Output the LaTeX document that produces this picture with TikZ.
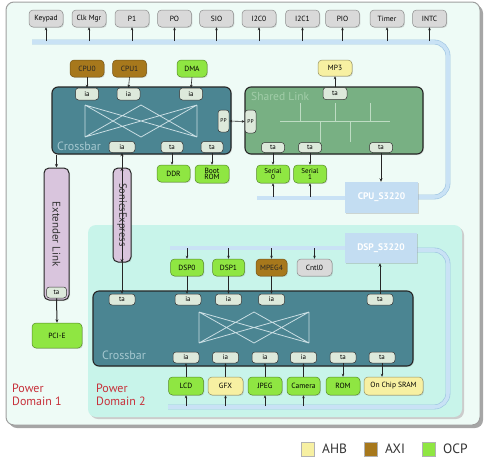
\documentclass[tikz,border=0pt]{standalone}
\usepackage{fontspec}
\setmainfont{PT Sans}
\usetikzlibrary{arrows.meta,shadows}
\definecolor{pdA}{HTML}{EEFBF6}
\definecolor{pdB}{HTML}{C8F4EA}
\definecolor{xbarcol}{HTML}{4B8592}
\definecolor{slcol}{HTML}{78B083}
\definecolor{portcol}{HTML}{DDE9DB}
\definecolor{graycol}{HTML}{D9D9D9}
\definecolor{axicol}{HTML}{A7781C}
\definecolor{ocpcol}{HTML}{8FE642}
\definecolor{ahbcol}{HTML}{F7F0A2}
\definecolor{purcol}{HTML}{D9C5DD}
\definecolor{buscol}{HTML}{C9E2F5}
\definecolor{busedge}{HTML}{9CC3E2}
\definecolor{sboxcol}{HTML}{C3DDF2}
\definecolor{pdred}{HTML}{C7303A}
\definecolor{xpatcol}{HTML}{C9DEE3}
\definecolor{sltext}{HTML}{A2CDA9}
\definecolor{xbtext}{HTML}{A5C8D0}
\newcommand\xbarpat[4]{%
  \draw[xpat] (#1,#2) -- (#1,#4) (#3,#2) -- (#3,#4)
   (#1,#2) -- (#3,#4) (#3,#2) -- (#1,#4)
   (#1,#2) -- ({(#1+#3)/2},#4) -- (#3,#2)
   (#1,#4) -- ({(#1+#3)/2},#2) -- (#3,#4);}
\begin{document}
\begin{tikzpicture}[x=1pt,y=-1pt,
  shad/.style={drop shadow={opacity=0.25,shadow xshift=0.9pt,shadow yshift=-0.9pt}},
  box/.style={draw=black!60, line width=0.5pt, rounded corners=4pt, inner sep=0pt, align=center,
     font=\fontsize{7.5}{6.5}\selectfont, minimum height=17pt, shad},
  periph/.style={box, fill=graycol, draw=gray!90, minimum width=34pt},
  axi/.style={box, fill=axicol, draw=axicol!70!black, text=black!85},
  ocp/.style={box, fill=ocpcol, draw=ocpcol!60!black},
  ahb/.style={box, fill=ahbcol, draw=ahbcol!60!black},
  port/.style={draw=black!80, line width=0.5pt, fill=portcol, rounded corners=3pt, inner sep=0pt,
     minimum width=24pt, minimum height=11pt, font=\fontsize{7}{7}\selectfont},
  big/.style={draw=black!85, line width=1.1pt, rounded corners=6pt, inner sep=0pt,
     drop shadow={opacity=0.2,shadow xshift=1pt,shadow yshift=-1pt}},
  sbox/.style={fill=sboxcol, inner sep=0pt, text=white, font=\bfseries\fontsize{9.5}{9.5}\selectfont,
     drop shadow={opacity=0.3,shadow xshift=1pt,shadow yshift=-1pt}},
  arr/.style={-{Stealth[length=3pt,width=2.6pt]}, line width=0.6pt, black!85},
  darr/.style={{Stealth[length=3pt,width=2.6pt]}-{Stealth[length=3pt,width=2.6pt]}, line width=0.6pt, black!85},
  tarr/.style={-{Stealth[length=3.5pt,width=3pt]}, line width=1pt, black!85},
  tdarr/.style={{Stealth[length=3.5pt,width=3pt]}-{Stealth[length=3.5pt,width=3pt]}, line width=1pt, black!85},
  bus/.style={draw=busedge, double=buscol, double distance=3.6pt, line width=0.6pt, rounded corners=14pt},
  xpat/.style={draw=xpatcol, line width=0.8pt},
  lbl/.style={inner sep=0pt, anchor=west}
]
\useasboundingbox (0,0) rectangle (490,459);
% power domains
\fill[gray!70, rounded corners=8pt] (9,5) rectangle (483,428);
\draw[fill=pdA, draw=gray!75, line width=1pt, rounded corners=8pt] (6,2) rectangle (480,425);
\fill[gray!40, rounded corners=8pt] (90,227) rectangle (464,419);
\fill[pdB, rounded corners=8pt] (88,225) rectangle (462,417);
% buses
\coordinate (tb) at (0,41);
\coordinate (cb) at (0,197);
\coordinate (db) at (0,248);
\coordinate (bb) at (0,406);
\draw[bus] (32,42) -- (448,42) -- (448,197) -- (418,197);
\draw[bus] (257,198) -- (345,198);
\draw[bus] (170,248) -- (345,248);
\draw[bus] (417,250) -- (448,250) -- (448,407) -- (168,407);
% top peripherals
\foreach \n/\t/\x in {kp/Keypad/46, ck/Clk Mgr/89, pone/P1/132, po/PO/174.5, sio/SIO/216.5,
   itwo/I2C0/259, ione/I2C1/302.5, pio/PIO/342.5, tmr/Timer/387, intc/INTC/429.5}{
  \node[periph] (\n) at (\x,18.5) {\t};
  \draw[arr] (\n.south |- tb) -- (\n.south);
}
% crossbar 1
\node[big, fill=xbarcol, minimum width=179pt, minimum height=67pt] (xb1) at (141.5,120.5) {};
\xbarpat{85}{105}{197}{137}
\node[lbl, text=xbtext, font=\fontsize{12}{12}\selectfont] (xb1l) at (57,146.5) {Crossbar};
\node[port, minimum width=23pt, minimum height=12pt] (xa1) at (87,94) {ia};
\node[port, minimum width=23pt, minimum height=12pt] (xa2) at (128.5,94) {ia};
\node[port, minimum width=23pt, minimum height=12pt] (xa3) at (191,94) {ia};
\node[port, minimum width=26pt] (xib) at (122,147) {ia};
\node[port, minimum width=22pt] (xt1) at (172,147) {ta};
\node[port, minimum width=22pt] (xt2) at (212,147) {ta};
\node[port, minimum width=11pt, minimum height=22pt, font=\fontsize{5.5}{5.5}\selectfont] (xpp) at (223.5,121) {PP};
\node[axi, minimum width=34pt] (cpu0) at (87,68.5) {CPU0};
\node[axi, minimum width=34pt] (cpu1) at (129.5,68.5) {CPU1};
\node[ocp, minimum width=30pt] (dma) at (192,68.5) {DMA};
\draw[arr] (cpu0) -- (xa1);
\draw[arr] (cpu1.south) -- (xa2.north);
\draw[arr] (dma.south) -- (xa3.north);
\node[ocp, minimum width=33pt] (ddr) at (173.5,173.5) {DDR};
\node[ocp, minimum width=34pt, minimum height=18pt, font=\fontsize{7.5}{6}\selectfont] (brom) at (212,174) {Boot\\ROM};
\draw[arr] (xt1.south) -- (ddr.north -| xt1.south);
\draw[arr] (xt2.south) -- (brom.north);
% shared link
\node[big, fill=slcol, minimum width=178pt, minimum height=67pt] (sl) at (334,120.5) {};
\draw[draw=sltext!70!white, line width=0.8pt] (280,121) -- (390,121)
  (300,103) -- (300,121) (335,103) -- (335,121) (370,103) -- (370,121)
  (320,121) -- (320,142) (350,121) -- (350,142);
\node[lbl, text=sltext, font=\fontsize{11.5}{11.5}\selectfont] (sll) at (251,96) {Shared Link};
\node[port, minimum width=11pt, minimum height=23pt, font=\fontsize{5.5}{5.5}\selectfont] (spp) at (250.5,121.5) {PP};
\node[port, minimum height=12pt] (st0) at (335,93.5) {ta};
\node[port, minimum width=23pt, minimum height=10pt] (st1) at (273,147.5) {ta};
\node[port, minimum width=23pt, minimum height=10pt] (st2) at (310,147.5) {ta};
\node[port, minimum width=23pt, minimum height=10pt] (st3) at (381,147.5) {ta};
\node[ahb, minimum width=34pt, minimum height=16pt] (mp3) at (335,68) {MP3};
\draw[arr] (st0.north) -- (mp3.south);
\draw[darr] (xpp.east) -- (spp.west);
\node[ocp, minimum width=33pt, minimum height=18pt, font=\fontsize{7}{6}\selectfont] (ser0) at (273,174) {Serial\\0};
\node[ocp, minimum width=33pt, minimum height=18pt, font=\fontsize{7}{6}\selectfont] (ser1) at (310,174) {Serial\\1};
\draw[arr] (st1.south) -- (ser0.north);
\draw[arr] (st2.south) -- (ser1.north);
\draw[arr] (ser0.south |- cb) -- (ser0.south);
\draw[arr] (ser1.south |- cb) -- (ser1.south);
\node[sbox, minimum width=73pt, minimum height=31pt] (cpus) at (381.5,197.5) {CPU\_S3220};
\draw[tarr] (st3.south) -- (cpus.north -| st3.south);
% extender link and sonics
\node[big, line width=1pt, fill=purcol, rounded corners=5pt, rotate=-90, minimum width=132pt,
   minimum height=25pt, font=\fontsize{11}{11}\selectfont, text=black!80] (ext) at (56.5,234) {Extender Link};
\node[port, minimum width=20pt] (et) at (56.5,292.5) {ta};
\node[big, line width=1pt, fill=purcol, rounded corners=5pt, rotate=-90, minimum width=94pt,
   minimum height=18pt, font=\fontsize{10.5}{10.5}\selectfont, text=black!80] (son) at (122,215) {SonicsExpress};
\draw[tarr] (ext.west |- xb1.south) -- (ext.west);
\node[ocp, minimum width=50pt, minimum height=25pt] (pcie) at (57,335.5) {PCI-E};
\draw[tarr] (et.south) -- (pcie.north);
\draw[tdarr] (xib.south) -- (son.east);
% power domain 2
\node[sbox, minimum width=72pt, minimum height=30pt] (dsps) at (381,248) {DSP\_S3220};
\node[ocp, minimum width=33pt] (dsp0) at (187,267.5) {DSP0};
\node[ocp, minimum width=32pt] (dsp1) at (228.5,267.5) {DSP1};
\node[axi, minimum width=31pt] (mpeg) at (271.5,267.5) {MPEG4};
\node[periph, minimum width=35pt] (cntl) at (314.5,267.5) {Cntl0};
\foreach \n in {dsp0,dsp1,mpeg,cntl}{\draw[arr] (\n.north |- db) -- (\n.north);}
\node[big, fill=xbarcol, minimum width=320pt, minimum height=75pt] (xbb) at (253,328.5) {};
\xbarpat{199}{312}{309}{343}
\node[lbl, text=xbtext, font=\fontsize{12}{12}\selectfont] (xbbl) at (102,355) {Crossbar};
\node[port, minimum width=26pt] (yt1) at (122,299.5) {ta};
\node[port, minimum width=26pt] (ya1) at (188,299.5) {ia};
\node[port, minimum width=26pt] (ya2) at (228.5,299.5) {ia};
\node[port, minimum width=26pt] (ya3) at (271.5,299.5) {ia};
\node[port, minimum width=26pt] (yt2) at (380,299.5) {ta};
\draw[tdarr] (son.west) -- (yt1.north);
\draw[arr] (dsp0.south) -- (dsp0.south |- ya1.north);
\draw[arr] (dsp1.south) -- (ya2.north);
\draw[arr] (mpeg.south) -- (ya3.north);
\draw[tarr] (yt2.north) -- (dsps.south -| yt2.north);
\foreach \n/\t/\x in {yb1/ia/186, yb2/ia/225.5, yb3/ia/265, yb4/ia/303.5, yb5/ta/343, yb6/ta/382}{
  \node[port, minimum width=26pt] (\n) at (\x,357.5) {\t};}
\node[ocp, minimum width=35pt, minimum height=18pt] (lcd) at (186,386) {LCD};
\node[ahb, minimum width=35pt, minimum height=18pt] (gfx) at (225.5,386) {GFX};
\node[ocp, minimum width=34pt, minimum height=18pt] (jpeg) at (265,386) {JPEG};
\node[ocp, minimum width=33pt, minimum height=18pt] (cam) at (303.5,386) {Camera};
\node[ocp, minimum width=34pt, minimum height=18pt] (rom) at (343,386) {ROM};
\node[ahb, minimum width=59pt, minimum height=18pt] (sram) at (393.5,386) {On Chip SRAM};
\draw[arr] (lcd.north) -- (yb1.south);
\draw[arr] (gfx.north) -- (yb2.south);
\draw[arr] (jpeg.north) -- (yb3.south);
\draw[arr] (cam.north) -- (yb4.south);
\draw[arr] (yb5.south) -- (rom.north);
\draw[arr] (yb6.south) -- (sram.north -| yb6.south);
\foreach \n in {lcd,gfx,jpeg,cam}{\draw[arr] (\n.south |- bb) -- (\n.south);}
% labels
\node[inner sep=0pt, anchor=north west, align=left, text=pdred, font=\fontsize{12}{12.5}\selectfont] (pd1) at (12,384) {Power\\Domain 1};
\node[inner sep=0pt, anchor=north west, align=left, text=pdred, font=\fontsize{12}{12.5}\selectfont] (pd2) at (96,384) {Power\\Domain 2};
% legend
\node[draw=gray!60, fill=ahbcol, minimum width=13pt, minimum height=14pt, inner sep=0pt] (lg1) at (307.5,449) {};
\node[lbl, font=\fontsize{13.5}{13.5}\selectfont, text=black!80] (lg1t) at (322,449) {AHB};
\node[draw=gray!60, fill=axicol, minimum width=13pt, minimum height=14pt, inner sep=0pt] (lg2) at (371,449) {};
\node[lbl, font=\fontsize{13.5}{13.5}\selectfont, text=black!80] (lg2t) at (385,449) {AXI};
\node[draw=gray!60, fill=ocpcol, minimum width=13pt, minimum height=14pt, inner sep=0pt] (lg3) at (428.5,449) {};
\node[lbl, font=\fontsize{13.5}{13.5}\selectfont, text=black!80] (lg3t) at (443,449) {OCP};
\end{tikzpicture}
\end{document}
